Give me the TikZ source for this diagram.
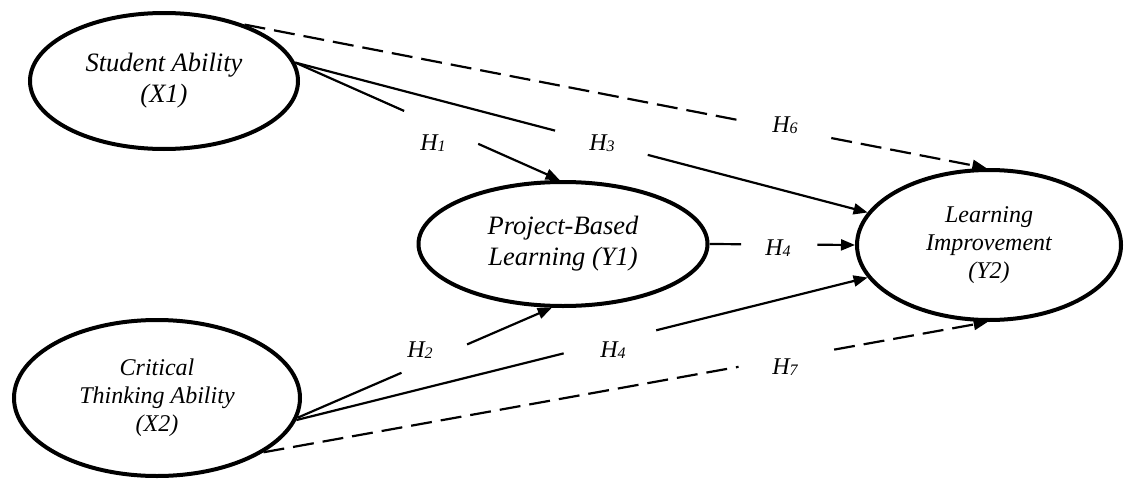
\documentclass[tikz,border=0pt]{standalone}
\usepackage{fontspec}
\setmainfont{Liberation Serif}
\usetikzlibrary{shapes.geometric,arrows.meta,calc}

\tikzset{
  construct/.style={ellipse, draw, line width=4pt, inner sep=0pt, align=center},
  bigtext/.style={font=\fontsize{26.5}{31}\selectfont\itshape},
  smalltext/.style={font=\fontsize{24}{28}\selectfont\itshape},
  conn/.style={line width=2.2pt},
  tip/.style={-{Triangle[length=14pt,width=11pt]}},
  dashline/.style={dash pattern=on 21pt off 9pt},
  hyp/.style={font=\fontsize{24}{24}\selectfont\itshape, inner sep=0pt}
}
\newcommand{\hyplabel}[1]{H\raisebox{-1pt}{\fontsize{16}{16}\selectfont #1}}

\begin{document}
\begin{tikzpicture}[x=1pt,y=-1pt]
  \useasboundingbox (0,0) rectangle (1125,479);

  % constructs
  \node[construct, bigtext, minimum width=268pt, minimum height=136pt] (sa) at (164,81)
    {Student Ability\\(X1)};
  \node[construct, smalltext, minimum width=286pt, minimum height=156pt] (ct) at (157,398)
    {Critical\\Thinking Ability\\(X2)};
  \node[construct, bigtext, minimum width=289pt, minimum height=124pt] (pbl) at (563,244)
    {Project-Based\\Learning (Y1)};
  \node[construct, smalltext, minimum width=264pt, minimum height=150pt] (li) at (989,245)
    {Learning\\Improvement\\(Y2)};

  % hypothesis labels
  \node[hyp] (h1) at (433,143) {\hyplabel{1}};
  \node[hyp] (h3) at (602,143) {\hyplabel{3}};
  \node[hyp] (h6) at (785,125) {\hyplabel{6}};
  \node[hyp] (h2) at (420,350) {\hyplabel{2}};
  \node[hyp] (h4a) at (778,248) {\hyplabel{4}};
  \node[hyp] (h4b) at (613,350) {\hyplabel{4}};
  \node[hyp] (h7) at (785,367) {\hyplabel{7}};

  % H1: X1 -> Y1
  \draw[conn] (sa.8) -- ($(sa.8)!0.412!(pbl.93)$);
  \draw[conn,tip] ($(sa.8)!0.692!(pbl.93)$) -- (pbl.93);
  % H3: X1 -> Y2
  \draw[conn] (sa.8) -- ($(sa.8)!0.454!(li.165)$);
  \draw[conn,tip] ($(sa.8)!0.616!(li.165)$) -- (li.165);
  % H6: X1 -> Y2 (dashed)
  \draw[conn,dashline] (sa.35) -- ($(sa.35)!0.666!(li.92)$);
  \draw[conn,dashline,tip] ($(sa.35)!0.791!(li.92)$) -- (li.92);
  % H2: X2 -> Y1
  \draw[conn] (ct.352) -- ($(ct.352)!0.409!(pbl.260)$);
  \draw[conn,tip] ($(ct.352)!0.667!(pbl.260)$) -- (pbl.260);
  % H4: Y1 -> Y2
  \draw[conn] (pbl.0) -- ($(pbl.0)!0.218!(li.180)$);
  \draw[conn,tip] ($(pbl.0)!0.741!(li.180)$) -- (li.180);
  % H4: X2 -> Y2
  \draw[conn] (ct.351) -- ($(ct.351)!0.468!(li.195)$);
  \draw[conn,tip] ($(ct.351)!0.630!(li.195)$) -- (li.195);
  % H7: X2 -> Y2 (dashed)
  \draw[conn,dashline] (ct.333) -- ($(ct.333)!0.656!(li.269)$);
  \draw[conn,dashline,tip] ($(ct.333)!0.788!(li.269)$) -- (li.269);
\end{tikzpicture}
\end{document}
